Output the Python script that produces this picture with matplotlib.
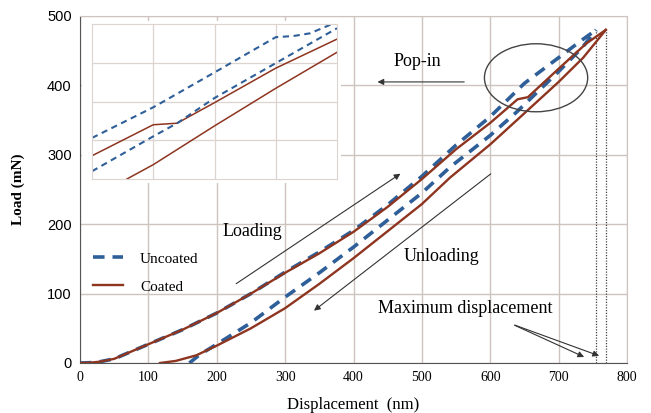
import numpy as np
import matplotlib.pyplot as plt
from matplotlib.patches import Ellipse, Rectangle

# values (displacement nm, load mN)
coated_load_x = [0, 15, 30, 50, 100, 150, 200, 250, 300, 350, 400, 450, 500, 550, 600, 640, 655, 700, 740, 769]
coated_load_y = [0, 0.5, 2, 6, 27, 48, 72, 100, 130, 158, 189, 225, 265, 308, 346, 380, 383, 424, 460, 480]
uncoated_load_x = [0, 15, 30, 50, 100, 150, 200, 250, 300, 350, 400, 450, 500, 550, 600, 650, 700, 735, 755]
uncoated_load_y = [0, 0.5, 2, 6, 27, 48, 72, 100, 131, 160, 191, 228, 269, 314, 355, 403, 440, 466, 480]
coated_unload_x = [117, 140, 170, 200, 250, 300, 350, 400, 450, 500, 541, 600, 639, 700, 736, 769]
coated_unload_y = [0, 3, 11, 25, 50, 79, 114, 151, 190, 229, 267, 315, 350, 405, 440, 480]
uncoated_unload_x = [160, 175, 200, 250, 300, 350, 400, 450, 500, 541, 600, 639, 700, 735, 755]
uncoated_unload_y = [0, 12, 27, 58, 95, 130, 167, 206, 245, 282, 328, 362, 420, 455, 480]
max_disp = [755, 769]

# inset (zoom of pop-in region, in grid units 0..4)
ins_dash_top_x = [0, 1.0, 2.0, 3.0, 3.29, 3.56, 3.92, 4.0]
ins_dash_top_y = [1.06, 1.85, 2.75, 3.66, 3.69, 3.76, 4.0, 4.05]
ins_solid_top_x = [0, 1.0, 1.39, 2.0, 3.0, 4.0]
ins_solid_top_y = [0.60, 1.40, 1.44, 1.97, 2.86, 3.61]
ins_dash_low_x = [0, 1.0, 1.39, 2.0, 3.0, 4.0]
ins_dash_low_y = [0.20, 1.10, 1.44, 2.09, 2.99, 3.89]
ins_solid_low_x = [0.57, 1.0, 2.0, 3.0, 4.0]
ins_solid_low_y = [0, 0.37, 1.37, 2.34, 3.27]

blue = '#2F5F98'
brown = '#8E3520'
grid_c = '#CFC3BF'
serif = 'Liberation Serif'

fig = plt.figure(figsize=(6.51, 4.13), dpi=100)
ax = fig.add_axes([80/651, 1-363/413, 547/651, 347/413])

ax.plot(uncoated_load_x, uncoated_load_y, color=blue, lw=2.6, dashes=(3.2, 2.2), label='Uncoated', zorder=3)
ax.plot(coated_load_x, coated_load_y, color=brown, lw=1.7, label='Coated', zorder=4)
ax.plot(uncoated_unload_x, uncoated_unload_y, color=blue, lw=2.6, dashes=(3.2, 2.2), zorder=3)
ax.plot(coated_unload_x, coated_unload_y, color=brown, lw=1.7, zorder=4)

for xv in max_disp:
    ax.plot([xv, xv], [0, 480], color='#444444', lw=0.9, ls=(0, (1, 1.2)), zorder=2)

ax.set_xlim(0, 800)
ax.set_ylim(0, 500)
ax.set_xticks(range(0, 801, 100))
ax.set_yticks(range(0, 501, 100))
ax.grid(True, color=grid_c, lw=1.0)
ax.set_axisbelow(True)
ax.tick_params(length=0, pad=6)
for lab in ax.get_xticklabels():
    lab.set_fontfamily(serif)
    lab.set_fontsize(10)
for lab in ax.get_yticklabels():
    lab.set_fontfamily('Liberation Sans')
    lab.set_fontsize(10.5)
ax.spines['left'].set_color('#555555')
ax.spines['bottom'].set_color('#555555')
ax.spines['top'].set_color(grid_c)
ax.spines['right'].set_color(grid_c)

ax.set_xlabel('Displacement  (nm)', fontfamily=serif, fontsize=12, labelpad=9)
ax.set_ylabel('Load (mN)', fontfamily=serif, fontsize=11, fontweight='bold', labelpad=16)

leg = ax.legend(loc='upper left', bbox_to_anchor=(-0.002, 0.36), frameon=False,
                prop={'family': serif, 'size': 11}, handlelength=2.0, labelspacing=0.95,
                handletextpad=1.1)

# annotations
ax.text(494, 434, 'Pop-in', fontfamily=serif, fontsize=13, ha='center', va='center')
ax.text(252, 190, 'Loading', fontfamily=serif, fontsize=13, ha='center', va='center')
ax.text(529, 154, 'Unloading', fontfamily=serif, fontsize=13, ha='center', va='center')
ax.text(563, 78, 'Maximum displacement', fontfamily=serif, fontsize=13, ha='center', va='center')

arrow = dict(arrowstyle='-|>', color='#333333', lw=0.8, mutation_scale=9)
ax.annotate('', xy=(431, 405), xytext=(566, 405), arrowprops=arrow)
ax.annotate('', xy=(472, 275), xytext=(225, 112), arrowprops=arrow)
ax.annotate('', xy=(339, 73), xytext=(604, 275), arrowprops=arrow)
ax.annotate('', xy=(741, 7), xytext=(632, 56), arrowprops=arrow)
ax.annotate('', xy=(763, 9), xytext=(632, 56), arrowprops=arrow)

ax.add_patch(Ellipse((667, 411), 151, 98, fill=False, ec='#444444', lw=1.0, zorder=5))

# white area behind inset
fig.patches.append(Rectangle((82/651, 1-183/413), 259/651, 162/413, transform=fig.transFigure,
                             facecolor='white', edgecolor='none', zorder=1))

ins = fig.add_axes([92/651, 1-179/413, 245/651, 155/413], zorder=2)
ins.plot(ins_dash_top_x, ins_dash_top_y, color=blue, lw=1.5, dashes=(3, 2.2))
ins.plot(ins_solid_top_x, ins_solid_top_y, color=brown, lw=1.1)
ins.plot(ins_dash_low_x, ins_dash_low_y, color=blue, lw=1.5, dashes=(3, 2.2))
ins.plot(ins_solid_low_x, ins_solid_low_y, color=brown, lw=1.1)
ins.set_xlim(0, 4)
ins.set_ylim(0, 4)
ins.set_xticks([1, 2, 3])
ins.set_yticks([1, 2, 3])
ins.set_xticklabels([])
ins.set_yticklabels([])
ins.tick_params(length=0)
ins.grid(True, color='#DDD4D0', lw=0.9)
for s in ins.spines.values():
    s.set_color('#DDD4D0')

fig.savefig('out.png', dpi=100)
